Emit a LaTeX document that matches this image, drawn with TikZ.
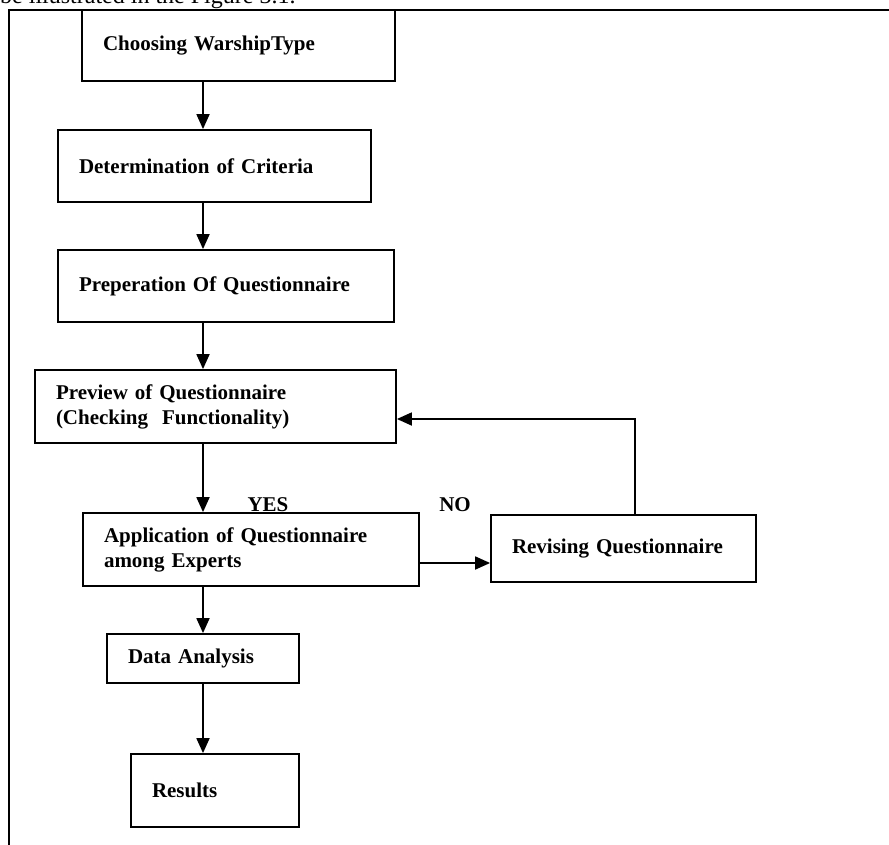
\documentclass[tikz,border=0pt]{standalone}
\usepackage{fontspec}
\setmainfont{Liberation Serif}
\usetikzlibrary{arrows.meta}
\begin{document}
\begin{tikzpicture}[x=1pt,y=-1pt,
  boxnode/.style={draw, line width=1.8pt, inner xsep=21pt, inner ysep=0pt, align=left,
    font=\fontsize{21}{25}\selectfont\bfseries, anchor=center},
  lbl/.style={inner sep=0pt, font=\fontsize{21}{25}\selectfont\bfseries},
  arr/.style={line width=1.8pt, -{Triangle[width=13pt,length=15pt]}},
  frameline/.style={line width=1.8pt}]
\useasboundingbox (0,0) rectangle (889,845);
\begin{scope}
\clip (0,0) rectangle (889,845);
\node[anchor=base west, inner sep=0pt, font=\fontsize{24}{28}\selectfont] (intro) at (0,3.5) {be illustrated in the Figure 3.1.};
\draw[frameline] (9,850) -- (9,10) -- (895,10);
\end{scope}
\node[boxnode, text width=271pt, minimum height=71pt] (b1) at (238.5,45.5) {Choosing WarshipType};
\node[boxnode, text width=271pt, minimum height=72pt] (b2) at (214.5,166) {Determination of Criteria};
\node[boxnode, text width=294pt, minimum height=72pt] (b3) at (226,286) {Preperation Of Questionnaire};
\node[boxnode, text width=319pt, minimum height=73pt] (b4) at (215.5,406.5) {Preview of Questionnaire\\(Checking\ \ Functionality)};
\node[boxnode, text width=294pt, minimum height=73pt] (b5) at (251,549.5) {Application of Questionnaire\\among Experts};
\node[boxnode, text width=223pt, minimum height=67pt] (rev) at (623.5,548.5) {Revising Questionnaire};
\node[boxnode, text width=150pt, minimum height=49pt] (data) at (203,658.5) {Data Analysis};
\node[boxnode, text width=126pt, minimum height=73pt] (res) at (215,790.5) {Results};
\node[lbl] (yes) at (268,505) {YES};
\node[lbl] (no) at (455,505) {NO};
\coordinate (ax) at (203,0);
\coordinate (fb) at (635,419);
\coordinate (hz) at (0,563);
\draw[arr] (b1.south -| ax) -- (b2.north -| ax);
\draw[arr] (b2.south -| ax) -- (b3.north -| ax);
\draw[arr] (b3.south -| ax) -- (b4.north -| ax);
\draw[arr] (b4.south -| ax) -- (b5.north -| ax);
\draw[arr] (b5.south -| ax) -- (data.north -| ax);
\draw[arr] (data.south -| ax) -- (res.north -| ax);
\draw[arr] (b5.east |- hz) -- (rev.west |- hz);
\draw[arr] (rev.north -| fb) |- (b4.east |- fb);
\end{tikzpicture}
\end{document}
